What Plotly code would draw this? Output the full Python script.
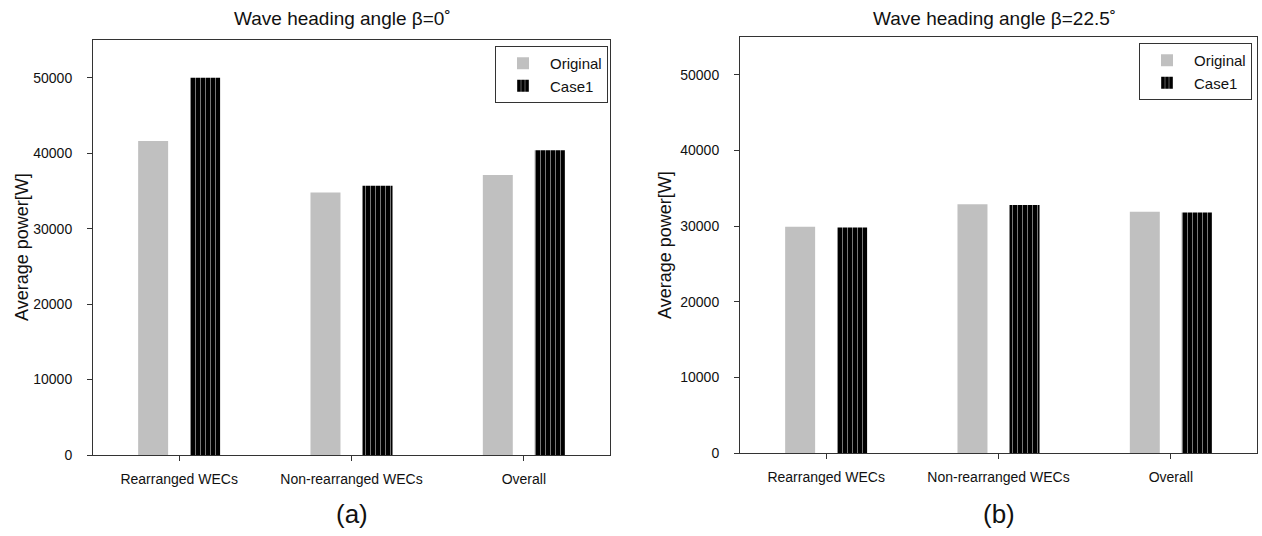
import plotly.graph_objects as go

W, H = 1262, 536

categories = ["Rearranged WECs", "Non-rearranged WECs", "Overall"]
original_b0 = [41600, 34800, 37100]
case1_b0 = [50000, 35700, 40400]
original_b225 = [29900, 32900, 31900]
case1_b225 = [29800, 32800, 31800]
y_ticks = [0, 10000, 20000, 30000, 40000, 50000]

FONT = "Liberation Sans, Arial, Helvetica, sans-serif"
GRAY = "#c0c0c0"
FRAME = "#333333"

def px(x):
    return x / W

def py(y):
    return (H - y) / H

fig = go.Figure()

BW = 0.174
OFF_O = -0.238
OFF_C = 0.064

def add_panel(orig, case, xa, ya, legend):
    fig.add_trace(go.Bar(
        x=categories, y=orig, name="Original", xaxis=xa, yaxis=ya,
        width=BW, offset=OFF_O, legend=legend,
        marker=dict(color=GRAY, line=dict(width=0)),
    ))
    fig.add_trace(go.Bar(
        x=categories, y=case, name="Case1", xaxis=xa, yaxis=ya,
        width=BW, offset=OFF_C, legend=legend,
        marker=dict(color="black", line=dict(width=0),
                    pattern=dict(shape="|", fillmode="overlay", fgcolor="#eeeeee",
                                 size=5, solidity=0.2)),
    ))

add_panel(original_b0, case1_b0, "x", "y", "legend")
add_panel(original_b225, case1_b225, "x2", "y2", "legend2")

xcommon = dict(range=[-0.5, 2.5], showline=True, mirror=True, linecolor=FRAME, linewidth=1,
               ticks="outside", ticklen=5, tickcolor=FRAME, showgrid=False, zeroline=False,
               tickfont=dict(size=14, family=FONT, color="#111"), ticklabelstandoff=6,
               fixedrange=True, automargin=False)
ycommon = dict(range=[0, 55000], tickvals=y_ticks, tickformat="d", showline=True, mirror=True,
               linecolor=FRAME, linewidth=1, ticks="outside", ticklen=5, tickcolor=FRAME,
               showgrid=False, zeroline=False, tickfont=dict(size=14, family=FONT, color="#111"),
               ticklabelstandoff=12, fixedrange=True, automargin=False)

legcommon = dict(bgcolor="white", bordercolor=FRAME, borderwidth=1,
                 font=dict(size=15, family=FONT, color="#111"),
                 xanchor="right", yanchor="top", itemwidth=44)

fig.update_layout(
    width=W, height=H,
    margin=dict(l=0, r=0, t=0, b=0, autoexpand=False),
    paper_bgcolor="white", plot_bgcolor="white",
    barmode="overlay",
    showlegend=True,
    hovermode=False,
    font=dict(family=FONT, color="#111"),
    xaxis=dict(domain=[px(93), px(610)], anchor="y", **xcommon),
    yaxis=dict(domain=[py(455), py(40)], anchor="x", **ycommon),
    xaxis2=dict(domain=[px(740), px(1257)], anchor="y2", **xcommon),
    yaxis2=dict(domain=[py(453), py(37)], anchor="x2", **ycommon),
    legend=dict(x=px(608), y=py(46), **legcommon),
    legend2=dict(x=px(1252), y=py(43), **legcommon),
)

annos = [
    dict(text="Wave heading angle β=0˚", x=px(342), y=py(18), size=19),
    dict(text="Wave heading angle β=22.5˚", x=px(994), y=py(18), size=19),
    dict(text="(a)", x=px(352), y=py(514), size=26),
    dict(text="(b)", x=px(999), y=py(514), size=26),
]
for a in annos:
    fig.add_annotation(text=a["text"], x=a["x"], y=a["y"], xref="paper", yref="paper",
                       xanchor="center", yanchor="middle", showarrow=False,
                       font=dict(size=a["size"], family=FONT, color="#111"))
for xc, yc in [(22, 247), (665, 245)]:
    fig.add_annotation(text="Average power[W]", x=px(xc), y=py(yc), xref="paper", yref="paper",
                       xanchor="center", yanchor="middle", showarrow=False, textangle=-90,
                       font=dict(size=18, family=FONT, color="#111"))

fig.write_html("out.html", config={"displayModeBar": False},
               post_script="document.body.style.margin='0';")
